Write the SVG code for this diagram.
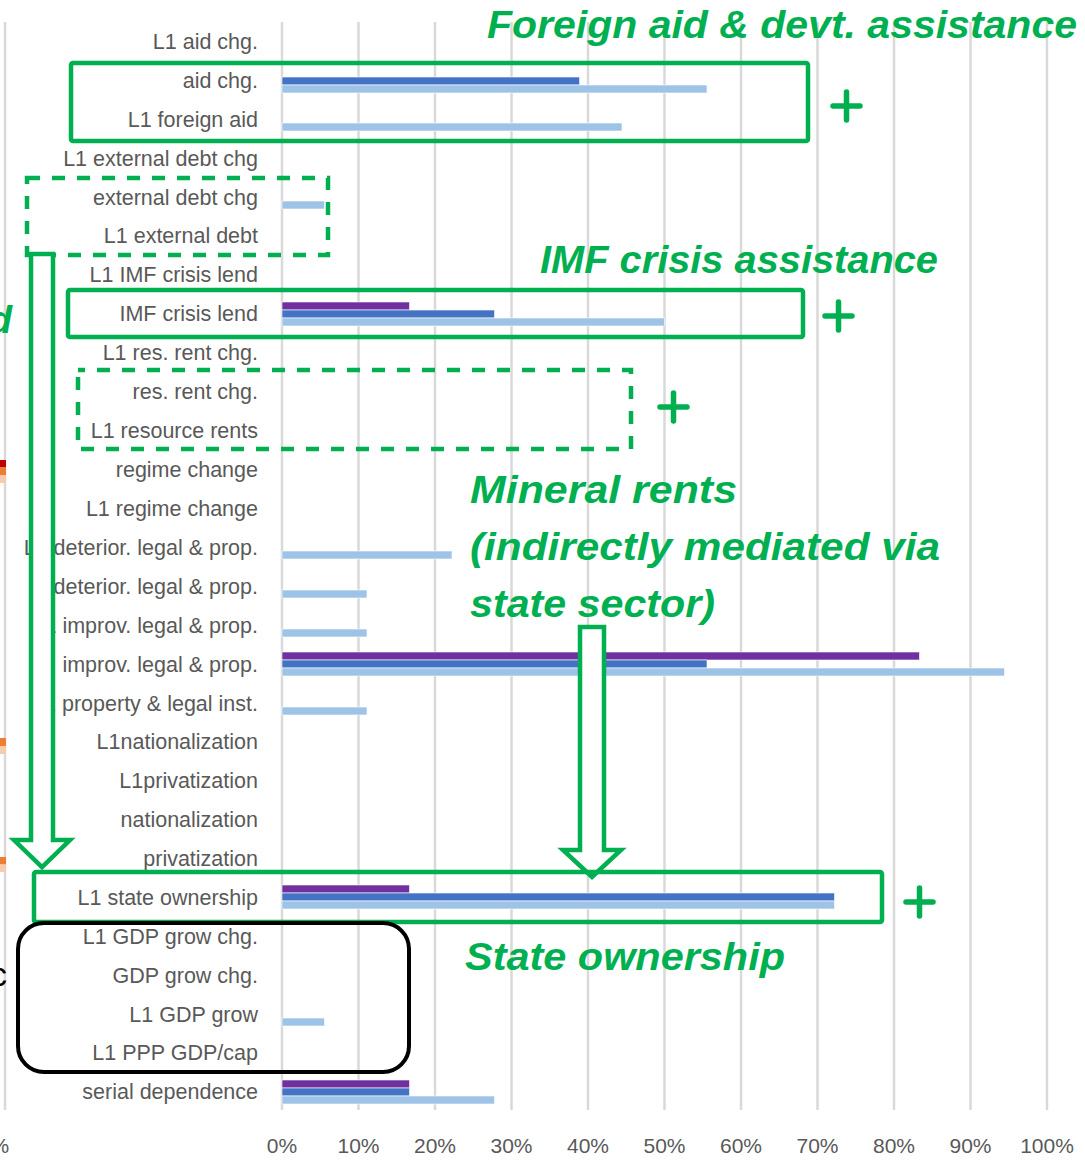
<svg xmlns="http://www.w3.org/2000/svg" width="1085" height="1160" viewBox="0 0 1085 1160">
<style>
.grid{stroke:#d9d9d9;stroke-width:2.5}
.lbl{font-family:"Liberation Sans",Arial,sans-serif;font-size:21.5px;fill:#595959;text-anchor:end}
.tick{font-family:"Liberation Sans",Arial,sans-serif;font-size:21px;fill:#595959;text-anchor:middle}
.pu{fill:#7030A0;stroke:#fff;stroke-width:0.6}
.bl{fill:#4472C4;stroke:#fff;stroke-width:0.6}
.lb{fill:#9DC3E6;stroke:#fff;stroke-width:0.6}
.box{fill:none;stroke:#00B050;stroke-width:4.5}
.dash{fill:none;stroke:#00B050;stroke-width:4.5;stroke-dasharray:13 12}
.arrow{fill:#fff;stroke:#00B050;stroke-width:4.5;stroke-linejoin:miter}
.gt{font-family:"Liberation Sans",Arial,sans-serif;font-weight:bold;font-style:italic;font-size:39px;fill:#00B050}
.plus{stroke:#00B050;stroke-width:5.5;stroke-linecap:round}
</style>
<rect width="1085" height="1160" fill="#fff"/>
<g id="gridlines">
<line class="grid" x1="5" y1="22" x2="5" y2="1110"/>
<line class="grid" x1="282" y1="22" x2="282" y2="1110"/>
<line class="grid" x1="358.5" y1="22" x2="358.5" y2="1110"/>
<line class="grid" x1="435" y1="22" x2="435" y2="1110"/>
<line class="grid" x1="511.5" y1="22" x2="511.5" y2="1110"/>
<line class="grid" x1="588" y1="22" x2="588" y2="1110"/>
<line class="grid" x1="664.5" y1="22" x2="664.5" y2="1110"/>
<line class="grid" x1="741" y1="22" x2="741" y2="1110"/>
<line class="grid" x1="817.5" y1="22" x2="817.5" y2="1110"/>
<line class="grid" x1="894" y1="22" x2="894" y2="1110"/>
<line class="grid" x1="970.5" y1="22" x2="970.5" y2="1110"/>
<line class="grid" x1="1047" y1="22" x2="1047" y2="1110"/>
</g>
<g id="left-fragments">
<rect x="0" y="460" width="6" height="7.5" fill="#C00000"/>
<rect x="0" y="467.5" width="6" height="7.5" fill="#ED7D31"/>
<rect x="0" y="475" width="6" height="8" fill="#F8CBAD"/>
<rect x="0" y="738" width="6" height="8" fill="#ED7D31"/>
<rect x="0" y="746" width="6" height="8" fill="#F8CBAD"/>
<rect x="0" y="857" width="6" height="7.5" fill="#ED7D31"/>
<rect x="0" y="864.5" width="6" height="7.5" fill="#F8CBAD"/>
<text class="gt" x="12" y="333" text-anchor="end">d</text>
<text x="7" y="986" font-family="Liberation Sans,Arial,sans-serif" font-size="34" fill="#000" text-anchor="end">c</text>
<text class="tick" x="-6" y="1153">0%</text>
</g>
<g id="bars">
<rect class="bl" x="282" y="77" width="297.6" height="8"/>
<rect class="lb" x="282" y="85" width="425" height="8"/>
<rect class="lb" x="282" y="123" width="340" height="8"/>
<rect class="lb" x="282" y="201" width="42.5" height="8"/>
<rect class="pu" x="282" y="302" width="127.5" height="8"/>
<rect class="bl" x="282" y="310" width="212.5" height="8"/>
<rect class="lb" x="282" y="318" width="382.5" height="8"/>
<rect class="lb" x="282" y="551" width="170" height="8"/>
<rect class="lb" x="282" y="590" width="85" height="8"/>
<rect class="lb" x="282" y="629" width="85" height="8"/>
<rect class="pu" x="282" y="652" width="637.5" height="8"/>
<rect class="bl" x="282" y="660" width="425" height="8"/>
<rect class="lb" x="282" y="668" width="722.5" height="8"/>
<rect class="lb" x="282" y="707" width="85" height="8"/>
<rect class="pu" x="282" y="885" width="127.5" height="8"/>
<rect class="bl" x="282" y="893" width="552.5" height="8"/>
<rect class="lb" x="282" y="901" width="552.5" height="8"/>
<rect class="lb" x="282" y="1018" width="42.5" height="8"/>
<rect class="pu" x="282" y="1080" width="127.5" height="8"/>
<rect class="bl" x="282" y="1088" width="127.5" height="8"/>
<rect class="lb" x="282" y="1096" width="212.5" height="8"/>
</g>
<g id="labels">
<text class="lbl" x="258" y="49">L1 aid chg.</text>
<text class="lbl" x="258" y="88">aid chg.</text>
<text class="lbl" x="258" y="127">L1 foreign aid</text>
<text class="lbl" x="258" y="166">L1 external debt chg</text>
<text class="lbl" x="258" y="205">external debt chg</text>
<text class="lbl" x="258" y="243">L1 external debt</text>
<text class="lbl" x="258" y="282">L1 IMF crisis lend</text>
<text class="lbl" x="258" y="321">IMF crisis lend</text>
<text class="lbl" x="258" y="360">L1 res. rent chg.</text>
<text class="lbl" x="258" y="399">res. rent chg.</text>
<text class="lbl" x="258" y="438">L1 resource rents</text>
<text class="lbl" x="258" y="477">regime change</text>
<text class="lbl" x="258" y="516">L1 regime change</text>
<text class="lbl" x="258" y="555">L1 deterior. legal &amp; prop.</text>
<text class="lbl" x="258" y="594">deterior. legal &amp; prop.</text>
<text class="lbl" x="258" y="633">L1 improv. legal &amp; prop.</text>
<text class="lbl" x="258" y="672">improv. legal &amp; prop.</text>
<text class="lbl" x="258" y="711">L1 property &amp; legal inst.</text>
<text class="lbl" x="258" y="749">L1nationalization</text>
<text class="lbl" x="258" y="788">L1privatization</text>
<text class="lbl" x="258" y="827">nationalization</text>
<text class="lbl" x="258" y="866">privatization</text>
<text class="lbl" x="258" y="905">L1 state ownership</text>
<text class="lbl" x="258" y="944">L1 GDP grow chg.</text>
<text class="lbl" x="258" y="983">GDP grow chg.</text>
<text class="lbl" x="258" y="1022">L1 GDP grow</text>
<text class="lbl" x="258" y="1060">L1 PPP GDP/cap</text>
<text class="lbl" x="258" y="1099">serial dependence</text>
</g>
<g id="axis">
<text class="tick" x="282" y="1153">0%</text>
<text class="tick" x="358.5" y="1153">10%</text>
<text class="tick" x="435" y="1153">20%</text>
<text class="tick" x="511.5" y="1153">30%</text>
<text class="tick" x="588" y="1153">40%</text>
<text class="tick" x="664.5" y="1153">50%</text>
<text class="tick" x="741" y="1153">60%</text>
<text class="tick" x="817.5" y="1153">70%</text>
<text class="tick" x="894" y="1153">80%</text>
<text class="tick" x="970.5" y="1153">90%</text>
<text class="tick" x="1047" y="1153">100%</text>
</g>
<g id="node-foreign-aid">
<rect class="box" x="71" y="63" width="737" height="78" rx="2"/>
<text class="gt" x="487" y="38" textLength="590" lengthAdjust="spacingAndGlyphs">Foreign aid &amp; devt. assistance</text>
<line class="plus" x1="833" y1="106" x2="860" y2="106"/><line class="plus" x1="846.5" y1="92" x2="846.5" y2="120"/>
</g>
<g id="node-external-debt">
<rect class="dash" x="27" y="178" width="301" height="77"/>
</g>
<g id="node-imf">
<rect class="box" x="68" y="290" width="735" height="47" rx="2"/>
<text class="gt" x="540" y="273" textLength="398" lengthAdjust="spacingAndGlyphs">IMF crisis assistance</text>
<line class="plus" x1="825" y1="316" x2="852" y2="316"/><line class="plus" x1="838.5" y1="302" x2="838.5" y2="330"/>
</g>
<g id="node-resource-rents">
<rect class="dash" x="78" y="370" width="553" height="79" stroke-dashoffset="6"/>
<line class="plus" x1="660" y1="407" x2="687" y2="407"/><line class="plus" x1="673.5" y1="393" x2="673.5" y2="421"/>
<text class="gt" x="470" y="503" textLength="267" lengthAdjust="spacingAndGlyphs">Mineral rents</text>
<text class="gt" x="470" y="560" textLength="470" lengthAdjust="spacingAndGlyphs">(indirectly mediated via</text>
<text class="gt" x="470" y="617" textLength="245" lengthAdjust="spacingAndGlyphs">state sector)</text>
</g>
<g id="connectors">
<polygon class="arrow" points="31,254 53,254 53,840 70,840 42,867 14,840 31,840"/>
<polygon class="arrow" points="580,627 604,627 604,850 621,850 592,877 563,850 580,850"/>
</g>
<g id="node-state-ownership">
<rect class="box" x="34" y="872" width="848" height="50" rx="2"/>
<text class="gt" x="465" y="970" textLength="320" lengthAdjust="spacingAndGlyphs">State ownership</text>
<line class="plus" x1="906" y1="902" x2="933" y2="902"/><line class="plus" x1="919.5" y1="888" x2="919.5" y2="916"/>
</g>
<g id="node-gdp">
<rect x="18" y="923" width="391" height="149" rx="26" fill="none" stroke="#000" stroke-width="4"/>
</g>
</svg>
